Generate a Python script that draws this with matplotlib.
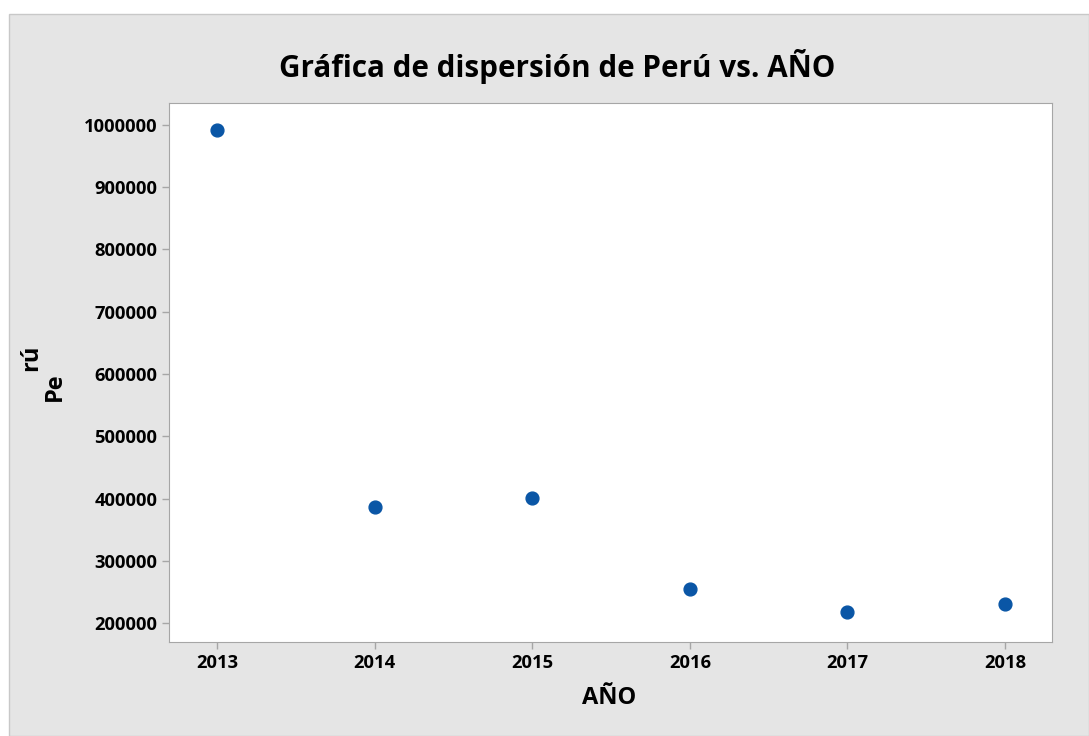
import matplotlib
matplotlib.use("Agg")
import matplotlib.pyplot as plt
from matplotlib.patches import Rectangle

years = [2013, 2014, 2015, 2016, 2017, 2018]
peru = [992000, 386000, 401000, 254500, 218000, 230500]
yticks = [200000, 300000, 400000, 500000, 600000, 700000, 800000, 900000, 1000000]

plt.rcParams['font.family'] = ['Open Sans', 'DejaVu Sans']

W, H = 1089, 736
fig = plt.figure(figsize=(W / 100, H / 100), dpi=100, facecolor='white')
fig.patches.append(Rectangle((9 / W, 0), 1 - 9 / W, 1 - 14 / H, transform=fig.transFigure,
                             facecolor='#e5e5e5', edgecolor='#c8c8c8', lw=1, zorder=-10))

ax = fig.add_axes([169 / W, 1 - 642 / H, (1052 - 169) / W, (642 - 103) / H])
ax.set_zorder(5)
ax.set_facecolor('white')
ax.scatter(years, peru, s=85, color='#0a56a6', zorder=3)
ax.set_xlim(2012.695, 2018.298)
ax.set_ylim(169500, 1035300)
ax.set_xticks(years)
ax.set_yticks(yticks)
ax.set_xticklabels([str(y) for y in years], fontsize=13.2, fontweight='bold')
ax.set_yticklabels([str(v) for v in yticks], fontsize=13.2, fontweight='bold')
for s in ax.spines.values():
    s.set_color('#a6a6a6')
ax.tick_params(color='#a6a6a6', length=5, width=1)

fig.text(557 / W, 1 - 66 / H, 'Gráfica de dispersión de Perú vs. AÑO', fontsize=21.3,
         fontweight='bold', ha='center', va='center')
fig.text(609 / W, 1 - 698 / H, 'AÑO', fontsize=17, fontweight='bold', ha='center', va='center')
fig.text(55 / W, 1 - 387 / H, 'Pe', fontsize=17, fontweight='bold', rotation=90,
         ha='center', va='center')
fig.text(31 / W, 1 - 358 / H, 'rú', fontsize=17, fontweight='bold', rotation=90,
         ha='center', va='center')

fig.savefig('out.png', dpi=100, facecolor='white')
